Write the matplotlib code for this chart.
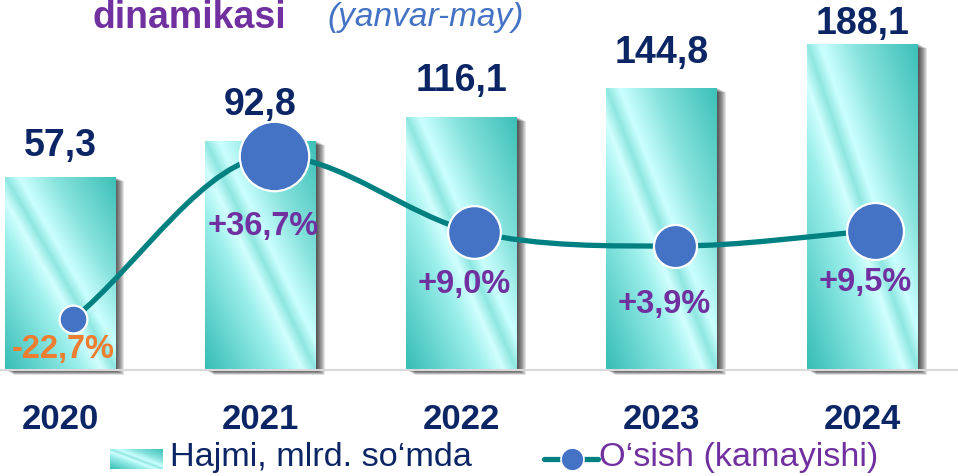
import numpy as np
import matplotlib
matplotlib.use("Agg")
import matplotlib.pyplot as plt
from matplotlib.patches import Rectangle, PathPatch
from matplotlib.path import Path
from matplotlib.lines import Line2D
from matplotlib.transforms import ScaledTranslation
from matplotlib.colors import to_rgb

# data
years = ["2020", "2021", "2022", "2023", "2024"]
volume = [57.3, 92.8, 116.1, 144.8, 188.1]          # Hajmi, mlrd. so'mda
growth = [-22.7, 36.7, 9.0, 3.9, 9.5]               # O'sish (kamayishi), %
volume_labels = ["57,3", "92,8", "116,1", "144,8", "188,1"]
growth_labels = ["-22,7%", "+36,7%", "+9,0%", "+3,9%", "+9,5%"]

# styling
NAVY = "#0B2565"
PURPLE = "#7030A0"
ORANGE = "#ED7D31"
TEAL = "#008080"
BLUE = "#4472C4"
marker_sizes = [20, 50, 38, 31, 41]       # points
label_drop = [22, 51, 38, 42, 37]         # points below marker centre
value_lift = [22, 26, 26, 25, 14]         # points above bar top
FONT = "Liberation Sans"

plt.rcParams["font.family"] = [FONT, "DejaVu Sans"]

W, H = 958, 476
fig = plt.figure(figsize=(W / 100, H / 100), dpi=100)
ax = fig.add_axes([0, 1 - 370 / H, 1, 370 / H])

x = np.arange(len(years))
ymin, ymax = -132.8, 231.2
bar_w = 0.553


def gradient(n=96):
    u = np.linspace(0, 1, n)[None, :]
    v = np.linspace(0, 1, n)[:, None]
    s = u - v
    stops = [-1.0, -0.3, -0.12, 0.0, 0.12, 0.45, 1.0]
    cols = ["#36BDB5", "#9EF0EC", "#D2FFFF", "#8EE6E0", "#CBFFFF", "#86E2DC", "#3CC0B8"]
    rgb = np.array([to_rgb(c) for c in cols])
    img = np.zeros((n, n, 3))
    for k in range(3):
        img[..., k] = np.interp(s, stops, rgb[:, k])
    return img


def shifted(dx, dy):
    return ax.transData + ScaledTranslation(dx / 100, dy / 100, fig.dpi_scale_trans)


bars = ax.bar(x, np.array(volume) - ymin, bottom=ymin, width=bar_w,
              facecolor="none", edgecolor="none", zorder=3)
img = gradient()
for rect in bars:
    x0, y0 = rect.get_x(), rect.get_y()
    w, h = rect.get_width(), rect.get_height()
    # soft drop shadow
    for k in range(1, 10):
        sh = Rectangle((x0, y0), w, h, facecolor="black", edgecolor="none",
                       alpha=0.11, transform=shifted(k, -0.5 * k), zorder=1,
                       clip_on=False)
        ax.add_patch(sh)
    fill = Rectangle((x0, y0), w, h, facecolor="#7FE0DA", edgecolor="none", zorder=2)
    ax.add_patch(fill)
    im = ax.imshow(img, extent=[x0, x0 + w, y0, y0 + h], aspect="auto",
                   interpolation="bilinear", zorder=2.5)
    im.set_clip_path(fill)

ax.set_xlim(-0.299, 4.477)
ax.set_ylim(ymin, ymax)
ax.set_xticks(x)
ax.set_xticklabels(years, fontsize=25, fontweight="bold", color=NAVY)
ax.tick_params(axis="x", length=0, pad=24)
ax.set_yticks([])
for side in ["top", "right", "left"]:
    ax.spines[side].set_visible(False)
ax.spines["bottom"].set_color("#D9D9D9")
ax.spines["bottom"].set_linewidth(1.5)
ax.spines["bottom"].set_zorder(4)

# growth line on secondary axis
ax2 = ax.twinx()
ax2.set_ylim(-41.2, 93.4)
ax2.set_yticks([])
for side in ax2.spines:
    ax2.spines[side].set_visible(False)

mx = x + 0.065
g = np.array(growth)
d = np.diff(g) / np.diff(mx)
m = np.zeros_like(g)
m[0], m[-1] = d[0], d[-1]
for i in range(1, len(g) - 1):
    if d[i - 1] * d[i] > 0:
        m[i] = (d[i - 1] + d[i]) / 2
verts = [(mx[0], g[0])]
codes = [Path.MOVETO]
for i in range(len(g) - 1):
    h = mx[i + 1] - mx[i]
    verts += [(mx[i] + h / 3, g[i] + m[i] * h / 3),
              (mx[i + 1] - h / 3, g[i + 1] - m[i + 1] * h / 3),
              (mx[i + 1], g[i + 1])]
    codes += [Path.CURVE4] * 3
ax2.add_patch(PathPatch(Path(verts, codes), facecolor="none", edgecolor=TEAL,
                        lw=3.8, capstyle="round", zorder=3))

for xi, gi, ms in zip(mx, g, marker_sizes):
    ax2.plot([xi], [gi], marker="o", ms=ms, mfc=BLUE, mec="white", mew=1.6,
             zorder=4)

# value labels drawn on top axis so markers never hide them
for xi, v, lab, lift in zip(x, volume, volume_labels, value_lift):
    ax2.annotate(lab, (xi, v), xycoords=ax.transData, xytext=(0, lift),
                 textcoords="offset points", ha="center", va="center",
                 fontsize=27, fontweight="bold", color=NAVY, zorder=6)

for xi, gi, lab, drop in zip(x, g, growth_labels, label_drop):
    ax2.annotate(lab, (xi + 0.015, gi), xytext=(0, -drop), textcoords="offset points",
                 ha="center", va="center", fontsize=23.5, fontweight="bold",
                 color=ORANGE if gi < 0 else PURPLE, zorder=5)

# title (only its last line is visible on the slide crop)
fig.text(93 / W, 1 - 28 / H, "dinamikasi", fontsize=27, fontweight="bold",
         color=PURPLE, va="baseline", ha="left")
fig.text(327 / W, 1 - 26 / H, "(yanvar-may)", fontsize=24, style="italic",
         color=BLUE, va="baseline", ha="left")

# legend
sw = fig.add_axes([110 / W, 1 - 469 / H, 53 / W, 20 / H])
sw.imshow(gradient(), aspect="auto", interpolation="bilinear")
sw.axis("off")
fig.text(170 / W, 1 - 466 / H, "Hajmi, mlrd. so\u2018mda", fontsize=24.7,
         color=NAVY, va="baseline", ha="left")
fig.add_artist(Line2D([544 / W, 598 / W], [1 - 459 / H, 1 - 459 / H],
                      color=TEAL, lw=3.8, solid_capstyle="round"))
fig.add_artist(Line2D([572 / W], [1 - 459 / H], marker="o", ms=16.5,
                      mfc=BLUE, mec="white", mew=1.2, lw=0))
fig.text(599 / W, 1 - 466 / H, "O\u2018sish (kamayishi)", fontsize=24.7,
         color=PURPLE, va="baseline", ha="left")

fig.savefig("out.png", dpi=100)
